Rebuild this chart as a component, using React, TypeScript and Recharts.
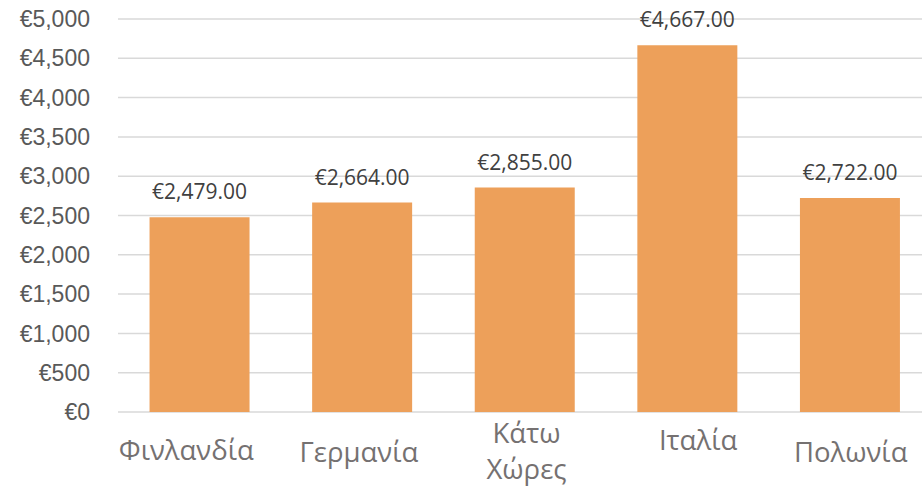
import { Bar, BarChart, CartesianGrid, LabelList, XAxis, YAxis } from "recharts";

const countries = ["Φινλανδία", "Γερμανία", "Κάτω Χώρες", "Ιταλία", "Πολωνία"];
const amounts = [2479, 2664, 2855, 4667, 2722];
const yTicks = [0, 500, 1000, 1500, 2000, 2500, 3000, 3500, 4000, 4500, 5000];

// small nudges so the category labels sit where the original put them
const labelNudge = [
  { dx: -13, dy: 48 },
  { dx: -3, dy: 50 },
  { dx: 2, dy: 31 },
  { dx: 11, dy: 38 },
  { dx: 1, dy: 50 },
];

const rows = countries.map((name, i) => ({ name, amount: amounts[i] }));

const euro = (v: number) => "€" + v.toLocaleString("en-US");
const euro2 = (v: number) =>
  "€" + v.toLocaleString("en-US", { minimumFractionDigits: 2, maximumFractionDigits: 2 });

function CountryTick(props: any) {
  const { x, y, payload, index } = props;
  const nudge = labelNudge[index] ?? { dx: 0, dy: 48 };
  const lines = String(payload.value).split(" ");
  return (
    <text
      x={x + nudge.dx}
      y={y + nudge.dy}
      textAnchor="middle"
      fill="#757171"
      fontSize={27.5}
      fontFamily="'Open Sans', sans-serif"
    >
      {lines.map((line, i) => (
        <tspan key={i} x={x + nudge.dx} dy={i === 0 ? 0 : 36}>
          {line}
        </tspan>
      ))}
    </text>
  );
}

function ValueLabel(props: any) {
  const { x, y, width, value } = props;
  return (
    <text
      x={x + width / 2}
      y={y - 18}
      textAnchor="middle"
      fill="#404040"
      fontSize={21}
      fontFamily="'Open Sans', sans-serif"
    >
      {euro2(value)}
    </text>
  );
}

export default function App() {
  return (
    <div
      style={{
        position: "absolute",
        left: 0,
        top: 0,
        width: 922,
        height: 486,
        overflow: "hidden",
        background: "#fff",
      }}
    >
      <BarChart
        width={932}
        height={486}
        data={rows}
        margin={{ top: 19, right: 1, left: 0, bottom: 0 }}
        barCategoryGap="19.4%"
      >
        <CartesianGrid vertical={false} stroke="#d9d9d9" strokeWidth={1.5} />
        <XAxis
          dataKey="name"
          height={74}
          axisLine={false}
          tickLine={false}
          tickSize={0}
          tickMargin={0}
          interval={0}
          tick={<CountryTick />}
        />
        <YAxis
          width={118}
          domain={[0, 5000]}
          ticks={yTicks}
          axisLine={false}
          tickLine={false}
          tickSize={0}
          tickMargin={28}
          tickFormatter={euro}
          tick={{ fontSize: 23, fill: "#595959", fontFamily: "'Liberation Sans', Arial, sans-serif" }}
        />
        <Bar dataKey="amount" fill="#eda05a" isAnimationActive={false}>
          <LabelList dataKey="amount" content={<ValueLabel />} />
        </Bar>
      </BarChart>
    </div>
  );
}
